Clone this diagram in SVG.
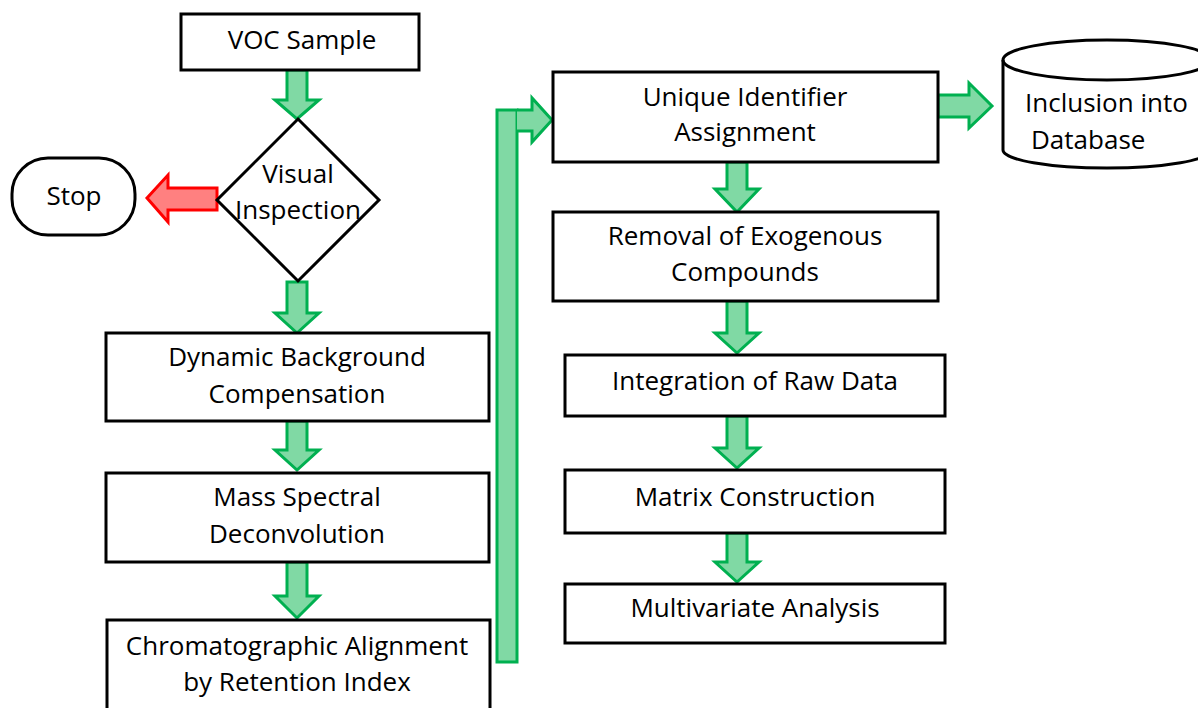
<svg xmlns="http://www.w3.org/2000/svg" width="1198" height="708" viewBox="0 0 1198 708">
<style>
.box{fill:#fff;stroke:#000;stroke-width:3}
.ga{fill:#80D9A4;stroke:#00B050;stroke-width:3;stroke-linejoin:miter}
.ra{fill:#FF8080;stroke:#FF0000;stroke-width:3}
text{font-family:"Open Sans","Liberation Sans",sans-serif;font-size:26px;fill:#000;text-anchor:middle}
.l{text-anchor:start}
</style>
<rect width="1198" height="708" fill="#fff"/>
<g id="connectors">
<path class="ga" d="M287,70 L307,70 L307,100 L319,100 L297,119 L275,100 L287,100 Z"/>
<path class="ga" d="M287,282 L307,282 L307,313 L319,313 L297,333 L275,313 L287,313 Z"/>
<path class="ga" d="M287,421 L307,421 L307,450 L319,450 L297,470 L275,450 L287,450 Z"/>
<path class="ga" d="M287,562 L307,562 L307,596 L319,596 L297,618 L275,596 L287,596 Z"/>
<path class="ra" d="M217,188 L168,188 L168,175 L147,198 L168,222 L168,210 L217,210 Z"/>
<rect class="ga" x="497" y="110" width="20" height="552"/>
<path class="ga" d="M517,110 L532,110 L532,98 L552,120 L532,142 L532,131 L517,131"/>
<path class="ga" d="M938,95 L969,95 L969,83 L992,106 L969,128 L969,117 L938,117 Z"/>
<path class="ga" d="M727,162 L747,162 L747,189 L759,189 L737,212 L715,189 L727,189 Z"/>
<path class="ga" d="M727,301 L747,301 L747,333 L759,333 L737,353 L715,333 L727,333 Z"/>
<path class="ga" d="M727,416 L747,416 L747,448 L759,448 L737,468 L715,448 L727,448 Z"/>
<path class="ga" d="M727,533 L747,533 L747,562 L759,562 L737,582 L715,562 L727,562 Z"/>
</g>
<g id="voc"><rect class="box" x="181" y="14" width="238" height="56"/><text x="302" y="49">VOC Sample</text></g>
<g id="visual"><path class="box" d="M298,119 L379,200 L298,281 L217,200 Z"/><text x="298" y="183">Visual</text><text x="298" y="219">Inspection</text></g>
<g id="stop"><rect class="box" x="12" y="158" width="123" height="77" rx="36" ry="36"/><text x="74" y="205">Stop</text></g>
<g id="dbc"><rect class="box" x="106" y="333" width="383" height="88"/><text x="297" y="366">Dynamic Background</text><text x="297" y="403">Compensation</text></g>
<g id="msd"><rect class="box" x="106" y="473" width="383" height="89"/><text x="297" y="506">Mass Spectral</text><text x="297" y="543">Deconvolution</text></g>
<g id="align"><rect class="box" x="107" y="620" width="383" height="100"/><text x="297" y="655">Chromatographic Alignment</text><text x="297" y="691">by Retention Index</text></g>
<g id="uid"><rect class="box" x="553" y="72" width="385" height="90"/><text x="745" y="106">Unique Identifier</text><text x="745" y="141">Assignment</text></g>
<g id="db"><path class="box" d="M1003,60 L1003,150 A104,18 0 0 0 1211,150 L1211,60 A104,20 0 0 0 1003,60 Z"/><path fill="none" stroke="#000" stroke-width="3" d="M1003,60 A104,20 0 0 0 1211,60"/><text class="l" x="1025" y="112">Inclusion into</text><text class="l" x="1031" y="149">Database</text></g>
<g id="rem"><rect class="box" x="553" y="212" width="385" height="89"/><text x="745" y="245">Removal of Exogenous</text><text x="745" y="281">Compounds</text></g>
<g id="integ"><rect class="box" x="565" y="355" width="380" height="61"/><text x="755" y="390">Integration of Raw Data</text></g>
<g id="matrix"><rect class="box" x="565" y="470" width="380" height="63"/><text x="755" y="506">Matrix Construction</text></g>
<g id="multi"><rect class="box" x="565" y="584" width="380" height="59"/><text x="755" y="617">Multivariate Analysis</text></g>
</svg>
